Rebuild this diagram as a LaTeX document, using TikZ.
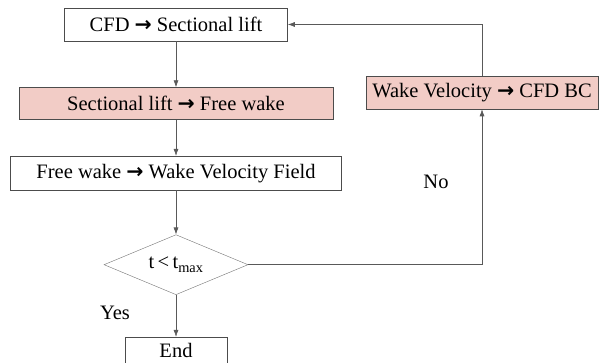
\documentclass[tikz,border=0pt]{standalone}
\usepackage{fontspec}
\setmainfont{Liberation Serif}
\newfontfamily\arrowfont{DejaVu Sans}
\usetikzlibrary{shapes.geometric,arrows.meta,positioning}
\definecolor{wakepink}{RGB}{242,204,198}
\newcommand{\goesto}{{\arrowfont\bfseries →}}

\begin{document}
\begin{tikzpicture}[
        x=1pt, y=1pt,
        every node/.style={font=\fontsize{20.5}{22}\selectfont},
        stage/.style={draw=black!70, fill=white, semithick, minimum height=33pt, inner sep=2pt},
        active/.style={fill=wakepink},
        decision/.style={draw=black!55, diamond, aspect=2.4, minimum width=144pt, minimum height=60pt, inner sep=0pt},
        to/.style={-{Latex[length=7pt,width=5pt]}, draw=black!65, semithick},
        ]
      \useasboundingbox (0,0) rectangle (609,363);
      \node [stage, minimum width=223pt] (cfd) at (176,338.5) {CFD \goesto{} Sectional lift};
      \node [stage, active, below=46pt of cfd, minimum width=314pt, minimum height=32pt] (freewake) {Sectional lift \goesto{} Free wake};
      \node [stage, below=36pt of freewake, minimum width=331pt, minimum height=34pt] (velfield) {Free wake \goesto{} Wake Velocity Field};
      \node [decision, below=44pt of velfield] (tcheck) {t\,<\,t\textsubscript{max}};
      \node [stage, below=42pt of tcheck, minimum width=102pt, minimum height=27pt] (finish) {End};
      \node [stage, active, minimum width=232pt] (wakebc) at (482,270.5) {Wake Velocity \goesto{} CFD BC};
      \node (no) at (436,181) {No};
      \node (yes) at (115,50) {Yes};

      \draw[to] (cfd) -- (freewake);
      \draw[to] (freewake) -- (velfield);
      \draw[to] (velfield) -- (tcheck);
      \draw[to] (tcheck) -- (finish);
      \draw[to] (tcheck) -| (wakebc);
      \draw[to] (wakebc) |- (cfd);
    \end{tikzpicture}
\end{document}
